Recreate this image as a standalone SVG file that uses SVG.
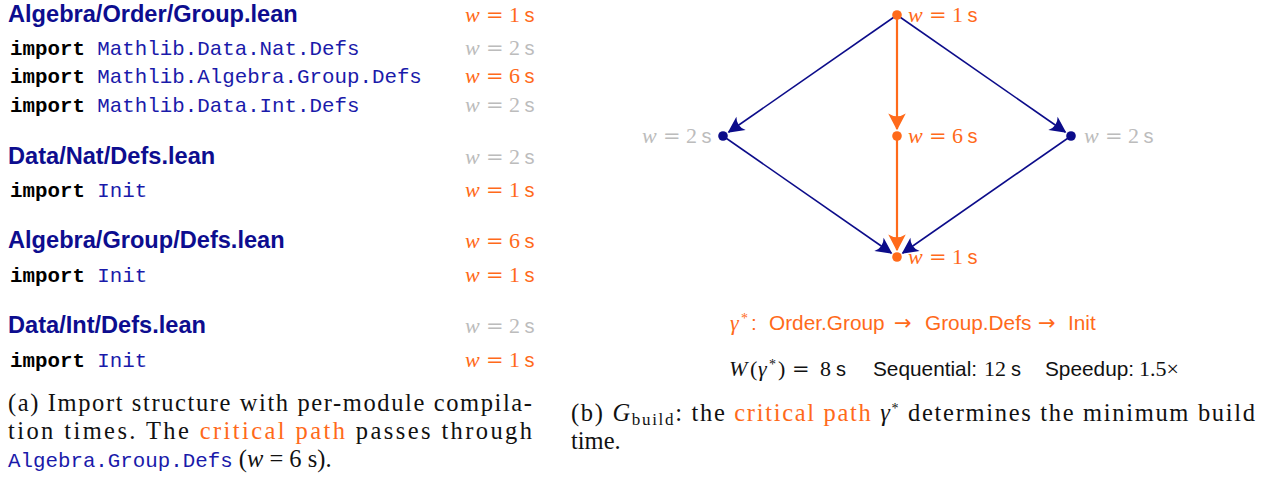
<svg xmlns="http://www.w3.org/2000/svg" width="1273" height="477" viewBox="0 0 1273 477">
<style>
.hd{font-family:"Liberation Sans",Arial,sans-serif;font-weight:bold;font-size:23.6px;fill:#0d0d8f}
.kw{font-family:"Liberation Mono",monospace;font-weight:bold;font-size:20.8px;fill:#000}
.mod{font-family:"Liberation Mono",monospace;font-size:20.8px;fill:#1a1aaa}
.lab{font-family:"Liberation Serif",serif;font-size:22px}
.mi{font-style:italic}
.eq{font-family:"DejaVu Serif",serif;font-size:21px}
.ss{font-family:"Liberation Sans",sans-serif;font-size:20px}
.or{fill:#ff6a1a}
.gr{fill:#bcbcbc}
.cap{font-family:"Liberation Serif",serif;font-size:24.5px;fill:#111}
.sum{font-family:"Liberation Sans",sans-serif;font-size:20.8px}
.arr{font-family:"DejaVu Sans",sans-serif;font-size:21px}
.sup{font-size:14px}
.navy{stroke:#0c0c8a;stroke-width:1.6;fill:none}
.orl{stroke:#ff6a1a;stroke-width:2.2;fill:none}
</style>
<defs>
<marker id="an" markerUnits="userSpaceOnUse" orient="auto" refX="0" refY="0" markerWidth="20" markerHeight="20" viewBox="-14 -8 16 16" overflow="visible">
<path d="M1,0 L-12,-6.5 Q-7.5,0 -12,6.5 Z" fill="#0c0c8a"/>
</marker>
<marker id="ao" markerUnits="userSpaceOnUse" orient="auto" refX="0" refY="0" markerWidth="20" markerHeight="20" viewBox="-14 -8 16 16" overflow="visible">
<path d="M1,0 L-12.5,-7 Q-8,0 -12.5,7 Z" fill="#ff6a1a"/>
</marker>
</defs>

<g id="left-listing">
<text class="hd" x="8" y="22">Algebra/Order/Group.lean</text>
<text class="lab or" y="22"><tspan class="mi" x="465">w</tspan><tspan class="eq" x="486">=</tspan><tspan x="509">1</tspan><tspan class="ss" x="524.5">s</tspan></text>
<text x="10" y="55"><tspan class="kw">import</tspan><tspan class="mod"> Mathlib.Data.Nat.Defs</tspan></text>
<text class="lab gr" y="55"><tspan class="mi" x="465">w</tspan><tspan class="eq" x="486">=</tspan><tspan x="509">2</tspan><tspan class="ss" x="524.5">s</tspan></text>
<text x="10" y="83"><tspan class="kw">import</tspan><tspan class="mod"> Mathlib.Algebra.Group.Defs</tspan></text>
<text class="lab or" y="83"><tspan class="mi" x="465">w</tspan><tspan class="eq" x="486">=</tspan><tspan x="509">6</tspan><tspan class="ss" x="524.5">s</tspan></text>
<text x="10" y="112"><tspan class="kw">import</tspan><tspan class="mod"> Mathlib.Data.Int.Defs</tspan></text>
<text class="lab gr" y="112"><tspan class="mi" x="465">w</tspan><tspan class="eq" x="486">=</tspan><tspan x="509">2</tspan><tspan class="ss" x="524.5">s</tspan></text>

<text class="hd" x="8" y="164">Data/Nat/Defs.lean</text>
<text class="lab gr" y="164"><tspan class="mi" x="465">w</tspan><tspan class="eq" x="486">=</tspan><tspan x="509">2</tspan><tspan class="ss" x="524.5">s</tspan></text>
<text x="10" y="197"><tspan class="kw">import</tspan><tspan class="mod"> Init</tspan></text>
<text class="lab or" y="197"><tspan class="mi" x="465">w</tspan><tspan class="eq" x="486">=</tspan><tspan x="509">1</tspan><tspan class="ss" x="524.5">s</tspan></text>

<text class="hd" x="8" y="248">Algebra/Group/Defs.lean</text>
<text class="lab or" y="248"><tspan class="mi" x="465">w</tspan><tspan class="eq" x="486">=</tspan><tspan x="509">6</tspan><tspan class="ss" x="524.5">s</tspan></text>
<text x="10" y="282"><tspan class="kw">import</tspan><tspan class="mod"> Init</tspan></text>
<text class="lab or" y="282"><tspan class="mi" x="465">w</tspan><tspan class="eq" x="486">=</tspan><tspan x="509">1</tspan><tspan class="ss" x="524.5">s</tspan></text>

<text class="hd" x="8" y="333">Data/Int/Defs.lean</text>
<text class="lab gr" y="333"><tspan class="mi" x="465">w</tspan><tspan class="eq" x="486">=</tspan><tspan x="509">2</tspan><tspan class="ss" x="524.5">s</tspan></text>
<text x="10" y="367"><tspan class="kw">import</tspan><tspan class="mod"> Init</tspan></text>
<text class="lab or" y="367"><tspan class="mi" x="465">w</tspan><tspan class="eq" x="486">=</tspan><tspan x="509">1</tspan><tspan class="ss" x="524.5">s</tspan></text>
</g>

<g id="caption-a">
<text class="cap" x="8" y="411" textLength="524" lengthAdjust="spacing">(a) Import structure with per-module compila-</text>
<text class="cap" x="8" y="439" textLength="524" lengthAdjust="spacing">tion times.  The <tspan class="or">critical path</tspan> passes through</text>
<text class="cap" x="8" y="467"><tspan class="mod">Algebra.Group.Defs</tspan> (<tspan font-style="italic">w</tspan> = 6 s).</text>
</g>

<g id="connectors">
<line class="navy" x1="897" y1="15" x2="728.7" y2="132" marker-end="url(#an)"/>
<line class="navy" x1="897" y1="15" x2="1065.3" y2="132" marker-end="url(#an)"/>
<line class="orl" x1="897" y1="15" x2="897" y2="129" marker-end="url(#ao)"/>
<line class="navy" x1="723" y1="136" x2="891.3" y2="253" marker-end="url(#an)"/>
<line class="navy" x1="1071" y1="136" x2="902.7" y2="253" marker-end="url(#an)"/>
<line class="orl" x1="897" y1="136" x2="897" y2="250" marker-end="url(#ao)"/>
</g>

<g id="node-order-group">
<circle cx="897" cy="15" r="4.8" fill="#ff6a1a"/>
<text class="lab or" y="22"><tspan class="mi" x="908">w</tspan><tspan class="eq" x="929">=</tspan><tspan x="952">1</tspan><tspan class="ss" x="967.5">s</tspan></text>
</g>
<g id="node-nat-defs">
<circle cx="723" cy="136" r="4.8" fill="#0c0c8a"/>
<text class="lab gr" y="143"><tspan class="mi" x="642">w</tspan><tspan class="eq" x="663">=</tspan><tspan x="686">2</tspan><tspan class="ss" x="701.5">s</tspan></text>
</g>
<g id="node-group-defs">
<circle cx="897" cy="136" r="4.8" fill="#ff6a1a"/>
<text class="lab or" y="143"><tspan class="mi" x="908">w</tspan><tspan class="eq" x="929">=</tspan><tspan x="952">6</tspan><tspan class="ss" x="967.5">s</tspan></text>
</g>
<g id="node-int-defs">
<circle cx="1071" cy="136" r="4.8" fill="#0c0c8a"/>
<text class="lab gr" y="143"><tspan class="mi" x="1084">w</tspan><tspan class="eq" x="1105">=</tspan><tspan x="1128">2</tspan><tspan class="ss" x="1143.5">s</tspan></text>
</g>
<g id="node-init">
<circle cx="897" cy="257" r="4.8" fill="#ff6a1a"/>
<text class="lab or" y="264"><tspan class="mi" x="908">w</tspan><tspan class="eq" x="929">=</tspan><tspan x="952">1</tspan><tspan class="ss" x="967.5">s</tspan></text>
</g>

<g id="summary">
<text class="sum or" y="330"><tspan class="lab mi" x="730">γ</tspan><tspan class="lab sup" x="741" dy="-7">*</tspan><tspan x="751" dy="7">:</tspan><tspan x="769">Order.Group</tspan><tspan class="arr" x="894">→</tspan><tspan x="925">Group.Defs</tspan><tspan class="arr" x="1038">→</tspan><tspan x="1068">Init</tspan></text>
<text class="lab" y="376" fill="#111"><tspan class="mi" x="729">W</tspan><tspan x="750">(</tspan><tspan class="mi" x="758">γ</tspan><tspan class="sup" x="769" dy="-7">*</tspan><tspan x="778" dy="7">)</tspan><tspan class="eq" x="792">=</tspan><tspan x="820">8</tspan><tspan class="ss" x="836">s</tspan></text>
<text class="sum" y="376" fill="#111"><tspan x="873">Sequential:</tspan><tspan class="lab" x="984">12</tspan><tspan class="ss" x="1011">s</tspan></text>
<text class="sum" y="376" fill="#111"><tspan x="1045">Speedup:</tspan><tspan class="lab" x="1139">1.5×</tspan></text>
</g>

<g id="caption-b">
<text class="cap" x="571" y="421" textLength="684" lengthAdjust="spacing">(b) <tspan font-style="italic">G</tspan><tspan font-size="17" dy="4">build</tspan><tspan dy="-4">:  the </tspan><tspan class="or">critical path</tspan> <tspan font-style="italic">γ</tspan><tspan class="sup" dy="-8">*</tspan><tspan dy="8"> determines the minimum build</tspan></text>
<text class="cap" x="571" y="449">time.</text>
</g>
</svg>
